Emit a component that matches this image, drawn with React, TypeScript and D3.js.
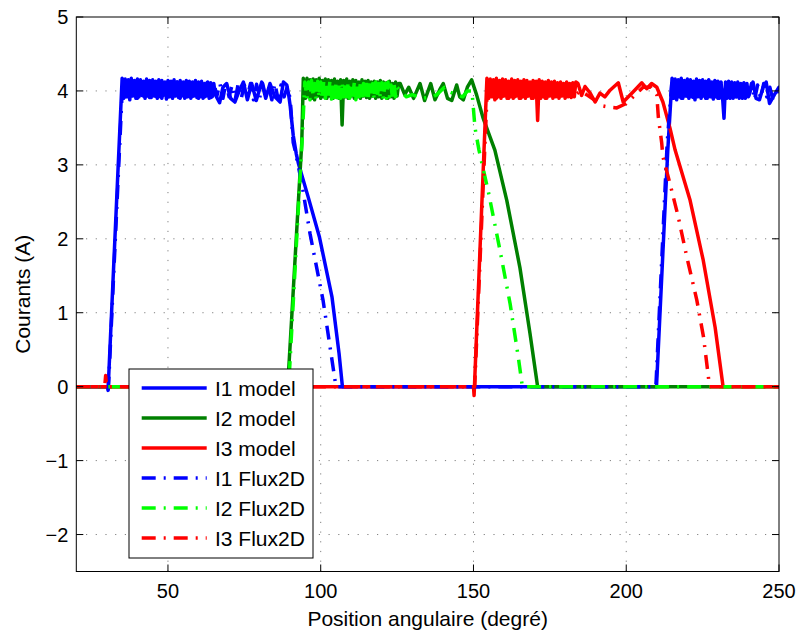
import React from "react";
import * as d3 from "d3";

type P = [number, number];
const seq = (x0: number, step: number, ys: number[]): P[] => ys.map((y, i) => [x0 + i * step, y]);

// ---------- data ----------
const xTicks = [50, 100, 150, 200, 250];
const yTicks = [-2, -1, 0, 1, 2, 3, 4, 5];
const seriesNames = ["I1 model", "I2 model", "I3 model", "I1 Flux2D", "I2 Flux2D", "I3 Flux2D"];

// I1 model
const I1m_rise: P[] = [[20, 0], [30.2, 0], [30.4, -0.05], [35, 4.17]];
const I1m_osc1 = [3.9,4.16,3.92,4.15,3.88,4.17,3.93,4.14,3.9,4.16, 3.92,4.15,3.94,4.13,3.9,4.16,3.93,4.14,3.91,4.15, 3.93,4.13,3.9,4.15,3.92,4.14,3.94,4.12,3.89,4.14, 3.92,4.13,3.9,4.15,3.93,4.12,3.91,4.14,3.93,4.12, 3.9,4.14,3.92,4.13,3.9,4.12,3.93,4.14,3.91,4.12, 3.92,4.13,3.9,4.1,3.93,4.12,3.9,4.11,3.92,4.1];
const I1m_wave1: P[] = [[65.5,3.95],[66.9,3.84],[68,4.05],[69.2,4.1],[70.5,3.9],[71.9,3.85],[73.3,4.0],[74.7,4.12],[76,3.88],[77.4,4.1],[78.9,3.87],[80.7,4.12],[82,3.9],[83.4,4.1],[85,3.92],[86.7,3.85],[87.8,4.12],[88.9,4.08]];
const I1m_fall: P[] = [[89.5,3.95],[90,3.8],[91,3.4],[92,3.15],[92.7,3.02],[96,2.55],[99.6,2.02],[103.7,1.21],[106,0.45],[107.1,0],[209.9,0],[213.6,3.2],[215,4.17]];
const I1m_osc2 = [3.9,4.16,3.88,4.15,3.92,4.17,3.9,4.14,3.93,4.16, 3.9,4.15,3.92,4.13,3.88,4.16,3.92,4.14,3.9,4.15, 3.93,4.13,3.9,4.15,3.92,4.12,3.89,4.14,3.92,4.13, 3.9,4.12,3.93,3.63,4.12,3.9,4.13,3.91,4.12,3.9, 4.11,3.92,4.12,3.9,4.1,3.93,4.11,3.9,4.1,3.92];
const I1m_wave2: P[] = [[241.5,4.12],[242.5,3.9],[243.6,3.88],[244.8,4.05],[245.8,4.12],[246.9,3.83],[248.5,3.95],[250,4.05]];

// I2 model
const I2m_rise: P[] = [[20, 0], [89.2, 0], [93.8, 3.3], [94.3, 4.17]];
const I2m_osc = [4.0,3.9,4.17,3.92,4.15,3.9,4.16,3.88,4.15,3.93, 4.17,3.9,4.14,3.92,4.16,3.9,4.15,3.93,4.14,3.9, 4.16,3.92,4.13,3.9,4.15,3.54,4.14,3.92,4.16,3.9, 4.13,3.93,4.15,3.9,4.14,3.92,4.12,3.9,4.15,3.93, 4.13,3.91,4.14,3.9,4.12,3.93,4.13,3.9,4.12,3.92, 4.14,3.9,4.12,3.93,4.11,3.9,4.13,3.92,4.1,3.9, 4.12,3.93,4.1];
const I2m_wave: P[] = [[126,4.1],[127.5,3.95],[128.8,4.05],[130.4,3.9],[132.5,4.1],[134,3.87],[134.7,3.95],[136,4.1],[137.4,3.88],[139,4.02],[140.1,4.1],[141.5,3.9],[142.9,3.87],[144.5,4.08],[145.5,3.92],[146.7,3.88],[148,4.05],[149.4,4.15]];
const I2m_fall: P[] = [[151,3.95],[153.1,3.64],[157,3.2],[160.9,2.52],[165.2,1.61],[168.5,0.72],[171,0],[250,0]];

// I3 model
const I3m_rise: P[] = [[20, 0], [150, 0], [150.2, -0.12], [154.4, 4.17]];
const I3m_osc = [3.9,4.16,3.92,4.15,3.88,4.17,3.92,4.14,3.9,4.16, 3.93,4.15,3.9,4.13,3.92,4.16,3.9,4.14,3.93,4.15, 3.9,4.13,3.92,4.15,3.9,4.14,3.93,4.12,3.9,4.14, 3.92,4.13,3.6,4.15,3.9,4.13,3.92,4.12,3.9,4.14, 3.93,4.12,3.9,4.13,3.92,4.11,3.9,4.12,3.93,4.1, 3.9,4.12,3.92,4.1,3.91,4.11,3.92,4.12];
const I3m_wave: P[] = [[184.2,4.1],[185.4,3.94],[186.5,4.06],[188.2,3.97],[189.8,3.85],[191.4,3.97],[193,3.92],[194.7,4.01],[197.4,4.11],[199,3.85],[202.3,3.99],[205.1,4.11],[206.7,4.03],[208.3,4.1],[210,4.05]];
const I3m_fall: P[] = [[212,3.85],[214.3,3.5],[216,3.2],[220.9,2.52],[225.2,1.71],[229.1,0.8],[231.7,0],[250,0]];

// I1 Flux2D
const I1f_rise: P[] = [[20, 0], [30.3, 0], [30.5, -0.03], [35.2, 4.15]];
const I1f_osc1 = [3.92,4.14,3.94,4.12,3.9,4.15,3.93,4.13,3.91,4.14, 3.93,4.12,3.9,4.14,3.92,4.13,3.94,4.12,3.9,4.14, 3.92,4.12,3.93,4.13,3.9,4.12,3.92,4.14,3.91,4.12, 3.93,4.1,3.9,4.12,3.92,4.08,3.88,4.1,3.9,4.08, 3.92,4.1,3.88,4.09,3.9,4.1,3.92,4.06,3.88,4.1, 3.9,4.08,3.92,4.05];
const I1f_fall: P[] = [[90,3.9],[91,3.3],[91.6,3.2],[93.8,2.75],[96.5,2.07],[100.8,1.16],[104.7,0.08],[105,0],[209.7,0],[213.4,3.3],[215,4.15]];
const I1f_osc2 = [3.92,4.14,3.9,4.13,3.93,4.15,3.91,4.12,3.94,4.13, 3.9,4.14,3.92,4.12,3.9,4.13,3.93,4.11,3.9,4.12, 3.92,4.1,3.9,4.11,3.92,4.1,3.88,4.08,3.9,4.1, 3.92,4.05,3.88,3.95,4.04];

// I2 Flux2D
const I2f_rise: P[] = [[20, 0], [89.5, 0], [94, 3.4], [94.8, 4.12]];
const I2f_osc = [3.9,4.12,3.88,4.14,3.92,4.1,3.89,4.13,3.91,4.12, 3.88,4.14,3.9,4.11,3.92,4.13,3.89,4.12,3.91,4.1, 3.88,4.13,3.9,4.12,3.92,4.1,3.89,4.13,3.9,4.11, 3.92,4.12,3.88,4.1,3.9,4.12,3.91,4.1,3.89,4.12, 3.9,4.11,3.92,4.1,3.88,4.12,3.9,4.1,3.91,4.11, 3.89,4.1,3.9,4.12,3.92,4.08,3.9,4.1,3.92,4.05];
const I2f_fall: P[] = [[126.5,3.98],[128,3.92],[130,3.95],[133,3.9],[136.7,3.92],[138,3.95],[140.5,4.05],[142.5,3.98],[144.5,3.95],[146.5,3.92],[148,4.0],[149.5,4.0],[150.5,3.5],[151.8,3.2],[154.9,2.63],[158.7,1.84],[162,1.12],[164.7,0.39],[166,0],[250,0]];

// I3 Flux2D
const I3f_rise: P[] = [[20, 0], [29.3, 0], [29.6, 0.15], [29.9, 0], [150.4, 0], [154.6, 4.1]];
const I3f_osc = [3.92,4.13,3.9,4.14,3.93,4.12,3.9,4.13,3.92,4.12, 3.9,4.14,3.93,4.11,3.9,4.12,3.92,4.13,3.9,4.11, 3.93,4.12,3.9,4.1,3.92,4.11,3.9,4.1,3.95];
const I3f_fall: P[] = [[185,4.0],[187,3.95],[189.5,3.88],[192,3.8],[194.5,3.78],[196.9,3.77],[200,3.83],[203,3.95],[205.5,4.05],[208,4.05],[210,3.95],[210.5,3.65],[211.6,3.3],[212,3.11],[214.3,2.75],[217,2.3],[219.8,1.76],[223.1,1.17],[225.3,0.67],[226.9,0.13],[227.2,0],[250,0]];

const I1_model: P[] = [...I1m_rise, ...seq(35.5, 0.5, I1m_osc1), ...I1m_wave1, ...I1m_fall, ...seq(215.5, 0.5, I1m_osc2), ...I1m_wave2];
const I2_model: P[] = [...I2m_rise, ...seq(94.5, 0.5, I2m_osc), ...I2m_wave, ...I2m_fall];
const I3_model: P[] = [...I3m_rise, ...seq(155, 0.5, I3m_osc), ...I3m_wave, ...I3m_fall];
const I1_flux: P[] = [...I1f_rise, ...seq(36, 1, I1f_osc1), ...I1f_fall, ...seq(216, 1, I1f_osc2)];
const I2_flux: P[] = [...I2f_rise, ...seq(95.5, 0.5, I2f_osc), ...I2f_fall];
const I3_flux: P[] = [...I3f_rise, ...seq(155.5, 1, I3f_osc), ...I3f_fall];

const seriesData = [I1_model, I2_model, I3_model, I1_flux, I2_flux, I3_flux];
const seriesColors = ["#0000ff", "#008000", "#ff0000", "#0000ff", "#00ff00", "#ff0000"];
const seriesDash = [null, null, null, "14,8,2,8", "14,8,2,8", "14,8,2,8"];

// ---------- layout ----------
const W = 800, H = 632;
const L = 76.3, R = 779, T = 17, B = 571.5;
const FONT = "'Liberation Sans', Arial, Helvetica, sans-serif";

export default function App() {
  const x = d3.scaleLinear().domain([20, 250]).range([L, R]);
  const y = d3.scaleLinear().domain([-2.5, 5]).range([B, T]);
  const line = d3.line<P>().x((d) => x(d[0])).y((d) => y(d[1]));
  const tick = 7;
  const legX = 129, legY = 369, legW = 184, legH = 189;
  const rowY = (i: number) => legY + 19 + i * 30;

  return (
    <div style={{ position: "fixed", left: 0, top: 0 }}>
      <svg width={W} height={H} style={{ display: "block", background: "#fff" }} fontFamily={FONT}>
        <rect x={0} y={0} width={W} height={H} fill="#fff" />
        <defs>
          <clipPath id="plotclip">
            <rect x={L} y={T} width={R - L} height={B - T} />
          </clipPath>
        </defs>
        {/* grid */}
        <g stroke="#808080" strokeWidth={1} strokeDasharray="1.2,8.5">
          {xTicks.filter((v) => v < 250).map((v) => (
            <line key={"gx" + v} x1={x(v)} x2={x(v)} y1={B} y2={T} />
          ))}
          {yTicks.filter((v) => v < 5).map((v) => (
            <line key={"gy" + v} x1={L} x2={R} y1={y(v)} y2={y(v)} />
          ))}
        </g>
        {/* series */}
        <g clipPath="url(#plotclip)" fill="none" strokeLinejoin="round">
          {seriesData.map((d, i) => (
            <path
              key={i}
              d={line(d) || ""}
              stroke={seriesColors[i]}
              strokeWidth={3.5}
              strokeDasharray={seriesDash[i] || undefined}
              strokeLinecap={seriesDash[i] ? "butt" : "round"}
            />
          ))}
        </g>
        {/* frame + ticks */}
        <g stroke="#000" strokeWidth={1} fill="none">
          <rect x={L} y={T} width={R - L} height={B - T} />
          {xTicks.map((v) => (
            <g key={"tx" + v}>
              <line x1={x(v)} x2={x(v)} y1={B} y2={B - tick} />
              <line x1={x(v)} x2={x(v)} y1={T} y2={T + tick} />
            </g>
          ))}
          {yTicks.map((v) => (
            <g key={"ty" + v}>
              <line x1={L} x2={L + tick} y1={y(v)} y2={y(v)} />
              <line x1={R} x2={R - tick} y1={y(v)} y2={y(v)} />
            </g>
          ))}
        </g>
        {/* tick labels */}
        <g fontSize={20} fill="#000">
          {xTicks.map((v) => (
            <text key={"lx" + v} x={x(v)} y={598} textAnchor="middle">{v}</text>
          ))}
          {yTicks.map((v) => (
            <text key={"ly" + v} x={L - 8} y={y(v) + 7} textAnchor="end">{v < 0 ? "\u2212" + Math.abs(v) : v}</text>
          ))}
        </g>
        {/* axis titles */}
        <text x={(L + R) / 2} y={626} textAnchor="middle" fontSize={21}>Position angulaire (degré)</text>
        <text transform={`translate(30,${(T + B) / 2}) rotate(-90)`} textAnchor="middle" fontSize={21}>Courants (A)</text>
        {/* legend */}
        <g>
          <rect x={legX} y={legY} width={legW} height={legH} fill="#fff" stroke="#000" strokeWidth={1} />
          {seriesNames.map((name, i) => (
            <g key={name}>
              <line x1={141.7} x2={206.7} y1={rowY(i)} y2={rowY(i)} stroke={seriesColors[i]} strokeWidth={3.5}
                strokeDasharray={seriesDash[i] || undefined} />
              <text x={215} y={rowY(i) + 7.5} fontSize={21}>{name}</text>
            </g>
          ))}
        </g>
      </svg>
    </div>
  );
}
